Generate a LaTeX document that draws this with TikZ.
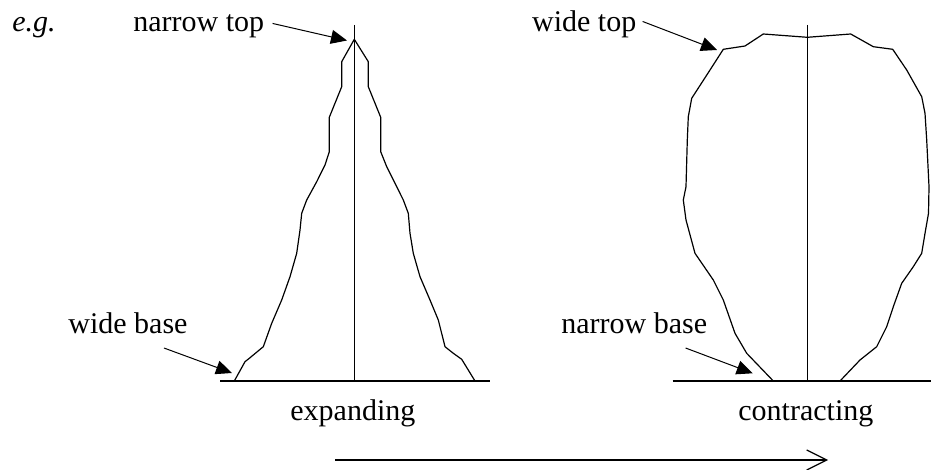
\documentclass[tikz,border=0pt]{standalone}
\usepackage{fontspec}
\setmainfont{Liberation Serif}
\usepackage{tikz}
\usetikzlibrary{arrows.meta, positioning}
\tikzstyle{tag} = [anchor=base west, inner sep=0pt, font=\fontsize{15}{18}\selectfont]
\tikzstyle{pointer} = [draw, line width=0.5pt, -{Triangle[length=8pt, width=7pt]}]
\tikzstyle{outline} = [draw, line width=0.6pt, line join=round]
\tikzstyle{axis} = [draw, line width=0.6pt]
\tikzstyle{trend} = [draw, line width=0.6pt, -{Straight Barb[length=10pt, width=10pt]}]

\begin{document}
\begin{tikzpicture}[x=0.5pt, y=-0.5pt]
    \useasboundingbox (0,0) rectangle (931,470);
    % Labels
    \node [tag] (eg) at (12,31.7) {\textit{e.g.}};
    \node [tag] (ntop) at (133,31.7) {narrow top};
    \node [tag] (wtop) at (531.7,31.7) {wide top};
    \node [tag] (wbase) at (68,333.3) {wide base};
    \node [tag] (nbase) at (561,333.3) {narrow base};
    \node [tag] (expand) at (290,420.7) {expanding};
    \node [tag] (contract) at (738,420.7) {contracting};

    % Arrow tips
    \coordinate (apex) at (347,40.5);
    \coordinate (shoulder) at (717,50);
    \coordinate (lfoot) at (232,373);
    \coordinate (rfoot) at (752.7,373.3);
    \coordinate (tstart) at (335,460);
    \coordinate (tend) at (828,460);

    % Expanding shape
    \path [axis] (220,381) -- (490,381);
    \path [axis] (354.3,25) -- (354.3,381);
    \path [outline] (234.3,381) -- (245,361.7) -- (249.3,358.3) -- (263.3,346.7) -- (271.7,323.3) -- (281.7,300) -- (290,276.7) -- (296.7,253.3) -- (300,230) -- (301.7,213.3) -- (306.7,200) -- (316.7,181.7) -- (325,165) -- (329.3,151.7) -- (329.3,117.3) -- (341.7,86.7) -- (341.7,61.7) -- (354.3,39.3) -- (368.3,61.7) -- (368.3,86.7) -- (380.7,117.3) -- (380.7,151.7) -- (386.7,166.7) -- (396.7,186.7) -- (403.3,200) -- (408.3,213.3) -- (410,233.3) -- (413.3,253.3) -- (420,276.7) -- (430,300) -- (438.3,320) -- (445,346.7) -- (453.3,353.3) -- (461.7,359.3) -- (475,381);

    % Contracting shape
    \path [axis] (672.7,381) -- (931,381);
    \path [axis] (807.3,25) -- (807.3,381);
    \path [outline] (773.3,381) -- (746.7,353.3) -- (735,333.3) -- (723.3,300) -- (713.3,280) -- (695,253.3) -- (686,220) -- (683.3,200) -- (686,186.7) -- (687.3,140) -- (688.3,116.7) -- (691.7,98.3) -- (710,70) -- (723.3,49.3) -- (745,46) -- (763.3,34) -- (807.3,37.3) -- (850.7,34) -- (873.3,46.7) -- (892.7,49.3) -- (906.7,70) -- (921.7,96.7) -- (925,113.3) -- (926.7,140) -- (929,186.7) -- (928.5,213.3) -- (925,233.3) -- (921.7,253.3) -- (913.3,266.7) -- (901.7,283.3) -- (893.3,306.7) -- (886.7,326.7) -- (876.7,346.7) -- (860,360) -- (840,381);

    % Edges
    \path [pointer] ([shift={(8,-3)}]ntop.east) -- (apex);
    \path [pointer] ([shift={(6,-3)}]wtop.east) -- (shoulder);
    \path [pointer] ([shift={(-24,14)}]wbase.south east) -- (lfoot);
    \path [pointer] ([shift={(-22,14)}]nbase.south east) -- (rfoot);
    \path [trend] (tstart) -- (tend);
\end{tikzpicture}
\end{document}
